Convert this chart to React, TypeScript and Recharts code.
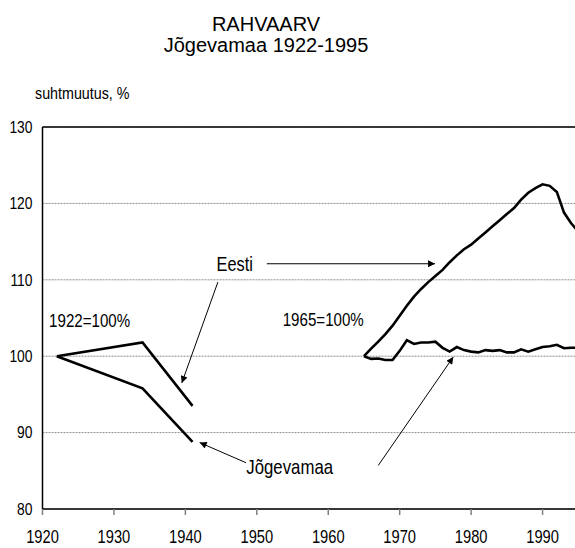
import {
  LineChart,
  Line,
  XAxis,
  YAxis,
  CartesianGrid,
  ReferenceLine,
  ReferenceDot,
} from 'recharts';

// 1922 = 100%
const OLD_YEARS = [1922, 1934, 1941];
const EESTI_OLD = [100, 101.8, 93.5];
const JOGEVA_OLD = [100, 95.8, 88.8];

// 1965 = 100%
const NEW_YEARS = [
  1965, 1966, 1967, 1968, 1969, 1970, 1971, 1972, 1973, 1974, 1975,
  1976, 1977, 1978, 1979, 1980, 1981, 1982, 1983, 1984, 1985, 1986,
  1987, 1988, 1989, 1990, 1991, 1992, 1993, 1994, 1995,
];
const EESTI_NEW = [
  100, 101.0, 101.9, 102.9, 104.0, 105.3, 106.6, 107.8, 108.8, 109.7, 110.5,
  111.3, 112.3, 113.2, 114.0, 114.6, 115.4, 116.2, 117.0, 117.8, 118.6, 119.4,
  120.5, 121.4, 122.0, 122.5, 122.3, 121.5, 118.8, 117.4, 116.3,
];
const JOGEVA_NEW = [
  100, 99.65, 99.7, 99.5, 99.5, 100.7, 102.1, 101.6, 101.8, 101.8, 101.9,
  101.1, 100.6, 101.2, 100.8, 100.6, 100.5, 100.8, 100.7, 100.8, 100.5, 100.5,
  100.9, 100.6, 100.9, 101.2, 101.3, 101.5, 101.05, 101.1, 101.1,
];

const X_TICKS = [1920, 1930, 1940, 1950, 1960, 1970, 1980, 1990];
const Y_TICKS = [80, 90, 100, 110, 120, 130];

const TITLE = 'RAHVAARV';
const SUBTITLE = 'Jõgevamaa 1922-1995';
const Y_LABEL = 'suhtmuutus, %';

const SANS = '"Liberation Sans", Arial, sans-serif';
// the original uses a narrow face; squeeze regular Arial metrics instead
const SQUEEZE = 0.84;

const toSeries = (years: number[], values: number[]) =>
  years.map((year, i) => ({ year, v: values[i] }));

// annotation texts (data coordinates)
const NOTES = [
  { x: 1946.9, y: 112.0, text: 'Eesti', size: 19.5 },
  { x: 1926.6, y: 104.7, text: '1922=100%', size: 18 },
  { x: 1959.3, y: 104.8, text: '1965=100%', size: 18 },
  { x: 1954.6, y: 85.5, text: 'Jõgevamaa', size: 20 },
];

// arrows: from -> to (data coordinates)
const ARROWS = [
  [{ x: 1944.55, y: 109.7 }, { x: 1939.5, y: 96.5 }],
  [{ x: 1951.4, y: 112.1 }, { x: 1974.95, y: 112.1 }],
  [{ x: 1948.5, y: 86.05 }, { x: 1942.0, y: 88.7 }],
  [{ x: 1967.0, y: 85.7 }, { x: 1977.5, y: 99.9 }],
];

const lineProps = {
  type: 'linear' as const,
  dataKey: 'v',
  stroke: '#000',
  strokeWidth: 2.6,
  dot: false,
  activeDot: false,
  isAnimationActive: false,
};

function Squeezed({ x, y, size, anchor, dy, children }: any) {
  return (
    <text
      transform={`translate(${x},${y}) scale(${SQUEEZE},1)`}
      textAnchor={anchor}
      dy={dy}
      fill="#000"
      fontSize={size}
      fontFamily={SANS}
    >
      {children}
    </text>
  );
}

const XTick = (props: any) => (
  <Squeezed x={props.x} y={props.y} size={17.5} anchor="middle" dy="0.71em">
    {props.payload.value}
  </Squeezed>
);

const YTick = (props: any) => (
  <Squeezed x={props.x} y={props.y} size={16.5} anchor="end" dy="0.355em">
    {props.payload.value}
  </Squeezed>
);

export default function App() {
  return (
    <div
      style={{
        position: 'absolute',
        left: 0,
        top: 0,
        width: 575,
        height: 548,
        overflow: 'hidden',
        background: '#fff',
      }}
    >
      <div
        style={{
          position: 'absolute',
          left: 0,
          top: 14,
          width: 532,
          textAlign: 'center',
          fontFamily: SANS,
          fontSize: 20,
          lineHeight: '20.5px',
          color: '#000',
        }}
      >
        <div>{TITLE}</div>
        <div>{SUBTITLE}</div>
      </div>
      <div
        style={{
          position: 'absolute',
          left: 35,
          top: 85,
          fontFamily: SANS,
          fontSize: 17,
          lineHeight: '17px',
          color: '#000',
          whiteSpace: 'nowrap',
          transform: `scaleX(${SQUEEZE})`,
          transformOrigin: 'left center',
        }}
      >
        {Y_LABEL}
      </div>
      <LineChart
        width={614}
        height={548}
        margin={{ top: 127, right: 0, left: 0, bottom: 0 }}
        style={{ position: 'absolute', left: 0, top: 0 }}
      >
        <defs>
          <marker
            id="arrow-head"
            viewBox="0 0 10 10"
            refX="10"
            refY="5"
            markerWidth="9"
            markerHeight="7"
            markerUnits="userSpaceOnUse"
            orient="auto"
          >
            <path d="M0,0 L10,5 L0,10 z" fill="#000" />
          </marker>
        </defs>
        <CartesianGrid
          horizontal
          vertical={false}
          stroke="#8c8c8c"
          strokeDasharray="2 1"
        />
        <XAxis
          dataKey="year"
          type="number"
          domain={[1920, 2000]}
          ticks={X_TICKS}
          allowDataOverflow
          height={39}
          tickSize={6}
          tickMargin={16}
          tickLine={{ stroke: '#808080', strokeWidth: 1.5 }}
          axisLine={{ stroke: '#000', strokeWidth: 1.5 }}
          tick={XTick}
        />
        <YAxis
          type="number"
          domain={[80, 130]}
          ticks={Y_TICKS}
          width={42.5}
          tickSize={0}
          tickMargin={10}
          tickLine={false}
          axisLine={{ stroke: '#000', strokeWidth: 1.5 }}
          tick={YTick}
        />
        <ReferenceLine y={130} stroke="#000" strokeWidth={1.5} />
        {ARROWS.map(([from, to], i) => (
          <ReferenceLine
            key={`arrow-${i}`}
            segment={[from, to]}
            stroke="#000"
            strokeWidth={1}
            markerEnd="url(#arrow-head)"
          />
        ))}
        <Line {...lineProps} data={toSeries(OLD_YEARS, EESTI_OLD)} name="Eesti 1922" />
        <Line {...lineProps} data={toSeries(OLD_YEARS, JOGEVA_OLD)} name="Jõgevamaa 1922" />
        <Line {...lineProps} data={toSeries(NEW_YEARS, EESTI_NEW)} name="Eesti 1965" />
        <Line {...lineProps} data={toSeries(NEW_YEARS, JOGEVA_NEW)} name="Jõgevamaa 1965" />
        {NOTES.map((n) => (
          <ReferenceDot
            key={n.text}
            x={n.x}
            y={n.y}
            r={0}
            fill="none"
            stroke="none"
            label={{
              content: (p: any) => (
                <Squeezed
                  x={p.viewBox.x + (p.viewBox.width || 0) / 2}
                  y={p.viewBox.y + (p.viewBox.height || 0) / 2}
                  size={n.size}
                  anchor="middle"
                  dy="0.355em"
                >
                  {n.text}
                </Squeezed>
              ),
            }}
          />
        ))}
      </LineChart>
    </div>
  );
}
